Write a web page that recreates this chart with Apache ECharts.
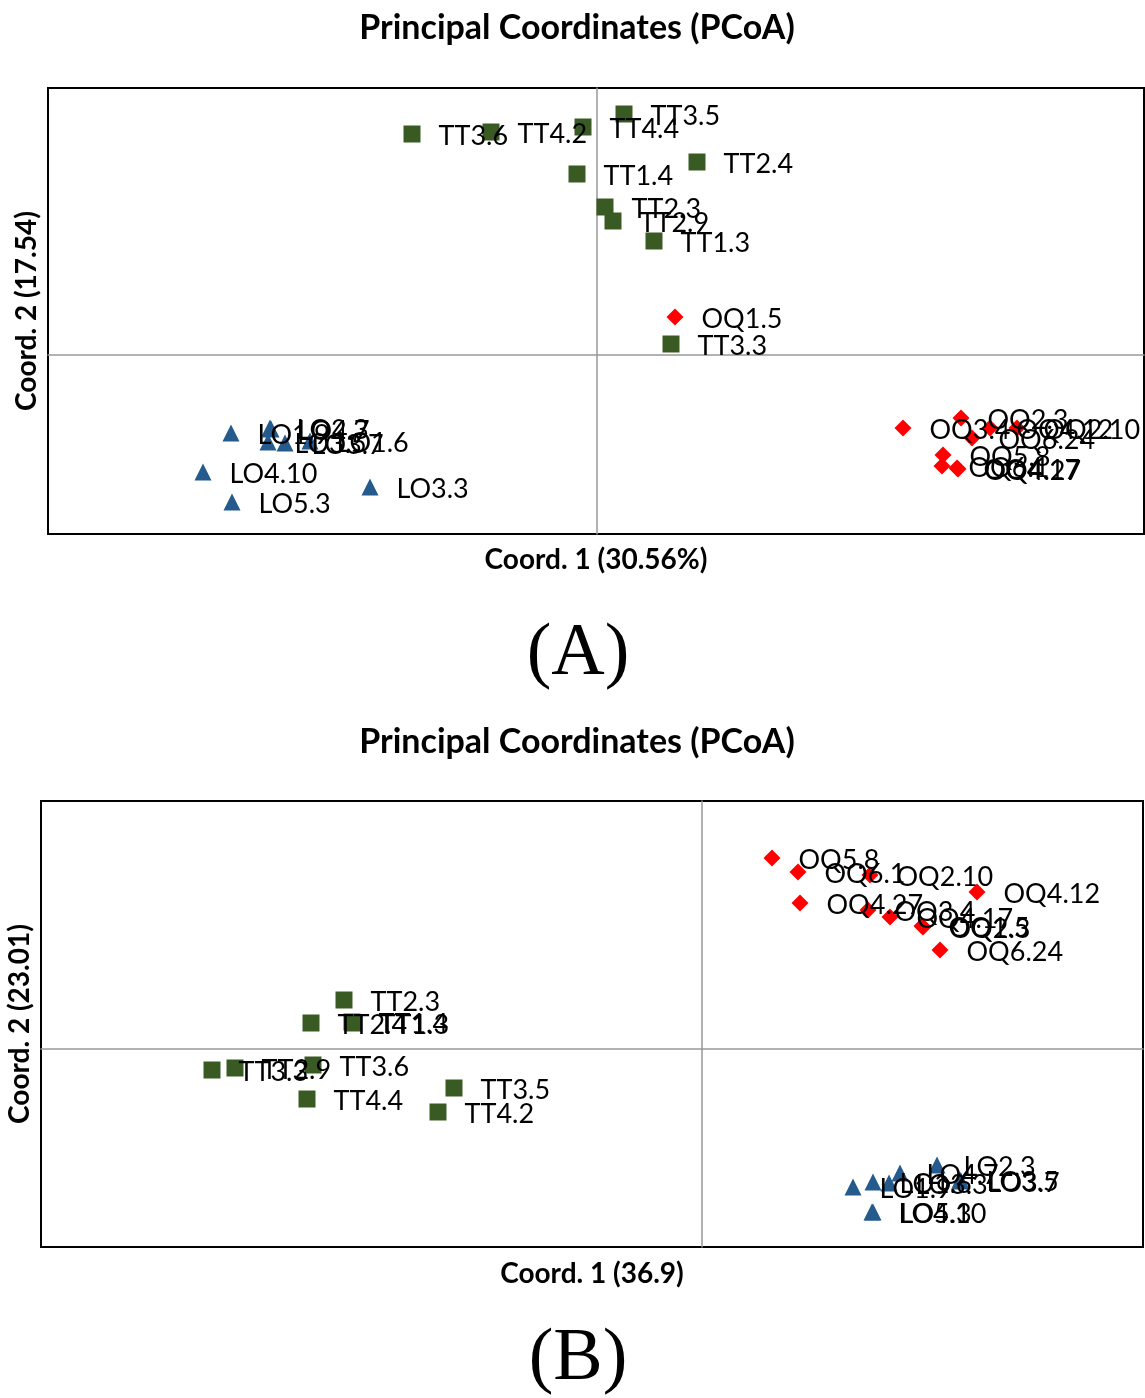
<!DOCTYPE html>
<html><head><meta charset="utf-8">
<script src="https://cdn.jsdelivr.net/npm/echarts@6/dist/echarts.min.js"></script>
<style>html,body{margin:0;padding:0;background:#fff}#c{width:1145px;height:1398px}</style>
</head><body><div id="c"></div>
<script>
// ---- Panel A ----
const aTTNames = ['TT3.6','TT4.2','TT4.4','TT3.5','TT2.4','TT1.4','TT2.3','TT2.9','TT1.3','TT3.3'];
const aTTX = [-0.185,-0.106,-0.014,0.027,0.100,-0.020,0.008,0.016,0.057,0.074];
const aTTY = [0.442,0.446,0.456,0.482,0.386,0.362,0.296,0.268,0.228,0.022];

const aOQNames = ['OQ1.5','OQ3.4','OQ2.3','OQ6.24','OQ4.12','OQ2.10','OQ5.8','OQ6.1','OQ4.17','OQ4.27'];
const aOQX = [0.078,0.306,0.364,0.375,0.393,0.420,0.346,0.345,0.360,0.361];
const aOQY = [0.076,-0.146,-0.126,-0.166,-0.146,-0.146,-0.200,-0.222,-0.226,-0.228];

const aLONames = ['LO1.9','LO2.3','LO4.7','LO3.5','LO3.7','LO1.6','LO4.10','LO5.3','LO3.3'];
const aLOX = [-0.366,-0.327,-0.326,-0.329,-0.312,-0.287,-0.394,-0.365,-0.227];
const aLOY = [-0.156,-0.146,-0.148,-0.174,-0.176,-0.172,-0.234,-0.294,-0.264];

// ---- Panel B ----
const bTTNames = ['TT2.3','TT2.4','TT1.4','TT1.3','TT3.3','TT2.9','TT3.6','TT3.5','TT4.4','TT4.2'];
const bTTX = [-0.358,-0.391,-0.350,-0.349,-0.490,-0.467,-0.389,-0.248,-0.395,-0.264];
const bTTY = [0.098,0.052,0.054,0.052,-0.042,-0.038,-0.032,-0.078,-0.100,-0.126];

const bOQNames = ['OQ5.8','OQ6.1','OQ2.10','OQ4.12','OQ4.27','OQ3.4','OQ4.17','OQ1.5','OQ2.3','OQ6.24'];
const bOQX = [0.070,0.096,0.168,0.275,0.098,0.166,0.188,0.220,0.221,0.238];
const bOQY = [0.382,0.354,0.348,0.314,0.292,0.278,0.264,0.246,0.244,0.198];

const bLONames = ['LO2.3','LO1.9','LO1.6','LO3.3','LO4.7','LO3.5','LO3.7','LO4.10','LO5.3'];
const bLOX = [0.235,0.151,0.171,0.187,0.198,0.258,0.259,0.170,0.171];
const bLOY = [-0.232,-0.276,-0.266,-0.268,-0.248,-0.262,-0.264,-0.326,-0.326];

const titleText = 'Principal Coordinates (PCoA)';
const aXName = 'Coord. 1 (30.56%)', aYName = 'Coord. 2 (17.54)';
const bXName = 'Coord. 1 (36.9)', bYName = 'Coord. 2 (23.01)';

function pts(names, xs, ys){ return names.map((n,i)=>({name:n, value:[xs[i], ys[i]]})); }

const GREEN = '#3A5A24', RED = '#FF0000', BLUE = '#245A8C';
const labelStyle = {show:true, position:'right', distance:18, offset:[0,2], formatter:'{b}', fontSize:27, fontFamily:'Lato', color:'#000'};

function ser(data, sym, size, color, gi){
  return {type:'scatter', xAxisIndex:gi, yAxisIndex:gi, data, symbol:sym, symbolSize:size,
    itemStyle:{color, opacity:1}, label:labelStyle, emphasis:{disabled:true}, clip:false};
}

const axisLineStyle = {show:true, onZero:true, lineStyle:{color:'#999', width:1.5}};
function xax(gi,min,max){ return {type:'value', gridIndex:gi, min, max, axisLine:axisLineStyle, axisTick:{show:false}, axisLabel:{show:false}, splitLine:{show:false}}; }
function yax(gi,min,max){ return {type:'value', gridIndex:gi, min, max, axisLine:axisLineStyle, axisTick:{show:false}, axisLabel:{show:false}, splitLine:{show:false}}; }

const chart = echarts.init(document.getElementById('c'), null, {renderer:'canvas'});
chart.setOption({
  animation:false,
  grid:[
    {left:48, top:88, width:1096, height:446, show:true, borderColor:'#000', borderWidth:2, backgroundColor:'transparent'},
    {left:41, top:801, width:1102, height:446, show:true, borderColor:'#000', borderWidth:2, backgroundColor:'transparent'}
  ],
  xAxis:[xax(0,-0.549,0.547), xax(1,-0.661,0.441)],
  yAxis:[yax(0,-0.358,0.534), yax(1,-0.396,0.496)],
  series:[
    ser(pts(aTTNames,aTTX,aTTY),'rect',17,GREEN,0),
    ser(pts(aOQNames,aOQX,aOQY),'diamond',17,RED,0),
    ser(pts(aLONames,aLOX,aLOY),'triangle',17,BLUE,0),
    ser(pts(bTTNames,bTTX,bTTY),'rect',17,GREEN,1),
    ser(pts(bOQNames,bOQX,bOQY),'diamond',17,RED,1),
    ser(pts(bLONames,bLOX,bLOY),'triangle',17,BLUE,1)
  ],
  graphic:[
    {type:'text', x:577, y:28, style:{text:titleText, font:'bold 34px Lato', fill:'#000', align:'center', verticalAlign:'middle'}},
    {type:'text', x:596, y:560, style:{text:aXName, font:'bold 28px Lato', fill:'#000', align:'center', verticalAlign:'middle'}},
    {type:'text', x:27, y:311, rotation:Math.PI/2, style:{text:aYName, font:'bold 28px Lato', fill:'#000', align:'center', verticalAlign:'middle'}},
    {type:'text', x:578, y:655, style:{text:'(A)', font:'74px "Liberation Serif"', fill:'#000', align:'center', verticalAlign:'middle'}},
    {type:'text', x:577, y:742, style:{text:titleText, font:'bold 34px Lato', fill:'#000', align:'center', verticalAlign:'middle'}},
    {type:'text', x:592, y:1274, style:{text:bXName, font:'bold 28px Lato', fill:'#000', align:'center', verticalAlign:'middle'}},
    {type:'text', x:20, y:1024, rotation:Math.PI/2, style:{text:bYName, font:'bold 28px Lato', fill:'#000', align:'center', verticalAlign:'middle'}},
    {type:'text', x:578, y:1360, style:{text:'(B)', font:'74px "Liberation Serif"', fill:'#000', align:'center', verticalAlign:'middle'}}
  ]
});
</script></body></html>
